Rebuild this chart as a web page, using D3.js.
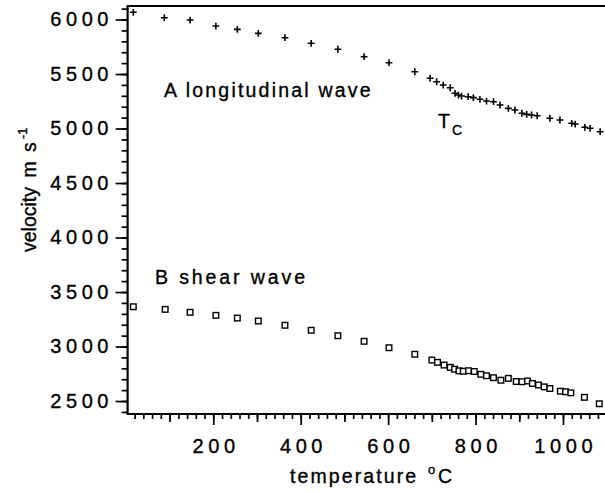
<!DOCTYPE html>
<html>
<head>
<meta charset="utf-8">
<script src="https://cdn.jsdelivr.net/npm/d3@7"></script>
<style>
  body { margin: 0; background: #fff; }
  svg { display: block; }
  text { font-family: "Liberation Sans", Arial, Helvetica, sans-serif; fill: #000; stroke: #000; stroke-width: 0.35px; }
</style>
</head>
<body>
<div id="chart"></div>
<script>
// velocity vs temperature - longitudinal and shear waves

const longTemp = [17, 88, 147, 206, 255, 303, 364, 424, 485, 545, 602, 661,
    696, 711, 726, 742, 753, 761, 768, 783, 795, 810, 825, 841, 856, 875,
    890, 906, 917, 928, 941, 970, 993, 1020, 1028, 1050, 1062, 1085];
const longVel = [6066, 6016, 5995, 5940, 5910, 5873, 5833, 5782, 5727, 5659, 5604, 5521,
    5461, 5429, 5399, 5374, 5323, 5307, 5298, 5292, 5283, 5268, 5252, 5246, 5216, 5185,
    5170, 5140, 5130, 5124, 5117, 5094, 5078, 5048, 5041, 5011, 5002, 4971];

const shearTemp = [17, 90, 147, 206, 255, 303, 364, 424, 485, 545, 602, 661,
    700, 713, 728, 742, 752, 762, 772, 784, 797, 812, 825, 841, 858, 875,
    893, 906, 919, 930, 944, 957, 970, 994, 1006, 1018, 1049, 1083];
const shearVel = [3365, 3341, 3314, 3286, 3261, 3234, 3195, 3149, 3099, 3048, 2989, 2929,
    2876, 2855, 2830, 2809, 2792, 2777, 2773, 2778, 2771, 2745, 2732, 2714, 2691, 2708,
    2679, 2677, 2684, 2661, 2647, 2630, 2615, 2590, 2585, 2575, 2534, 2475];

const yTicks = [2500, 3000, 3500, 4000, 4500, 5000, 5500, 6000];
const xTicks = [200, 400, 600, 800, 1000];

const width = 605, height = 491;

const svg = d3.select('#chart').append('svg')
    .attr('width', width)
    .attr('height', height);

const x = d3.scaleLinear().domain([4, 1100]).range([127.6, 606.7]);
const y = d3.scaleLinear().domain([2381, 6124]).range([414, 6]);

// minor ticks (no labels)
svg.append('g')
    .attr('transform', `translate(${x(4)},0)`)
    .call(d3.axisLeft(y).tickValues(d3.range(2400, 6101, 100)).tickSize(6).tickFormat(''))
    .call(g => g.select('.domain').remove());

svg.append('g')
    .attr('transform', `translate(0,${y(2381)})`)
    .call(d3.axisBottom(x).tickValues(d3.range(20, 1100, 20)).tickSize(5).tickFormat(''))
    .call(g => g.select('.domain').remove());

svg.append('g')
    .attr('transform', `translate(0,${y(2381)})`)
    .call(d3.axisBottom(x).tickValues(d3.range(100, 1100, 200)).tickSize(8).tickFormat(''))
    .call(g => g.select('.domain').remove());

// major ticks with labels
const yAxis = svg.append('g')
    .attr('transform', `translate(${x(4)},0)`)
    .call(d3.axisLeft(y).tickValues(yTicks).tickSize(12).tickPadding(7).tickFormat(d3.format('d')))
    .call(g => g.select('.domain').remove());

const xAxis = svg.append('g')
    .attr('transform', `translate(0,${y(2381)})`)
    .call(d3.axisBottom(x).tickValues(xTicks).tickSize(11).tickPadding(14).tickFormat(d3.format('d')))
    .call(g => g.select('.domain').remove());

svg.selectAll('.tick line').attr('stroke', '#000').attr('stroke-width', 1.7);
svg.selectAll('.tick text')
    .attr('font-family', '"Liberation Sans", Arial, sans-serif')
    .attr('font-size', 20)
    .attr('letter-spacing', '4.6px')
    .attr('fill', '#000');
yAxis.selectAll('.tick text').attr('dx', 4.5);
xAxis.selectAll('.tick text').attr('dx', 2.3);

// frame lines: left, bottom and top
svg.append('line')
    .attr('x1', x(4)).attr('x2', x(4))
    .attr('y1', y(6124)).attr('y2', y(2381))
    .attr('stroke', '#000').attr('stroke-width', 2.2);
svg.append('line')
    .attr('x1', x(4) - 1).attr('x2', width)
    .attr('y1', y(2381)).attr('y2', y(2381))
    .attr('stroke', '#000').attr('stroke-width', 2.2);
svg.append('line')
    .attr('x1', x(4) - 1).attr('x2', width)
    .attr('y1', y(6124)).attr('y2', y(6124))
    .attr('stroke', '#000').attr('stroke-width', 2.2);

// A: longitudinal wave, plus markers
const longData = longTemp.map((t, i) => ({t: t, v: longVel[i]}));
svg.append('g').selectAll('path')
    .data(longData)
    .join('path')
    .attr('transform', d => `translate(${x(d.t)},${y(d.v)})`)
    .attr('d', 'M-3.4,0H3.4M0,-3.4V3.4')
    .attr('stroke', '#000')
    .attr('stroke-width', 1.6)
    .attr('fill', 'none');

// B: shear wave, open squares
const shearData = shearTemp.map((t, i) => ({t: t, v: shearVel[i]}));
svg.append('g').selectAll('rect')
    .data(shearData)
    .join('rect')
    .attr('x', d => x(d.t) - 2.8)
    .attr('y', d => y(d.v) - 2.8)
    .attr('width', 5.6)
    .attr('height', 5.6)
    .attr('fill', '#fff')
    .attr('stroke', '#000')
    .attr('stroke-width', 1.4);

// annotations
svg.append('text')
    .attr('x', 164).attr('y', 97)
    .attr('font-size', 19.5)
    .attr('letter-spacing', '2.2px')
    .text('A longitudinal wave');

svg.append('text')
    .attr('x', 155).attr('y', 284)
    .attr('font-size', 19.5)
    .attr('letter-spacing', '2.9px')
    .text('B shear wave');

const tc = svg.append('text')
    .attr('x', 438).attr('y', 128)
    .attr('font-size', 19.5);
tc.append('tspan').text('T');
tc.append('tspan').attr('x', 452).attr('y', 135).attr('font-size', 14).text('C');

// axis titles
const yTitle = svg.append('text')
    .attr('transform', 'translate(36,252) rotate(-90)')
    .attr('font-size', 19.5)
    .attr('word-spacing', '4px');
yTitle.append('tspan').text('velocity m s');
yTitle.append('tspan').attr('dx', 3).attr('dy', -9).attr('font-size', 13).text('-1');

const xTitle = svg.append('text')
    .attr('x', 290).attr('y', 483)
    .attr('font-size', 19.5)
    .attr('letter-spacing', '2.1px');
xTitle.append('tspan').text('temperature');
xTitle.append('tspan').attr('x', 428).attr('dy', -9).attr('font-size', 13).text('o');
xTitle.append('tspan').attr('x', 438).attr('dy', 9).text('C');
</script>
</body>
</html>
